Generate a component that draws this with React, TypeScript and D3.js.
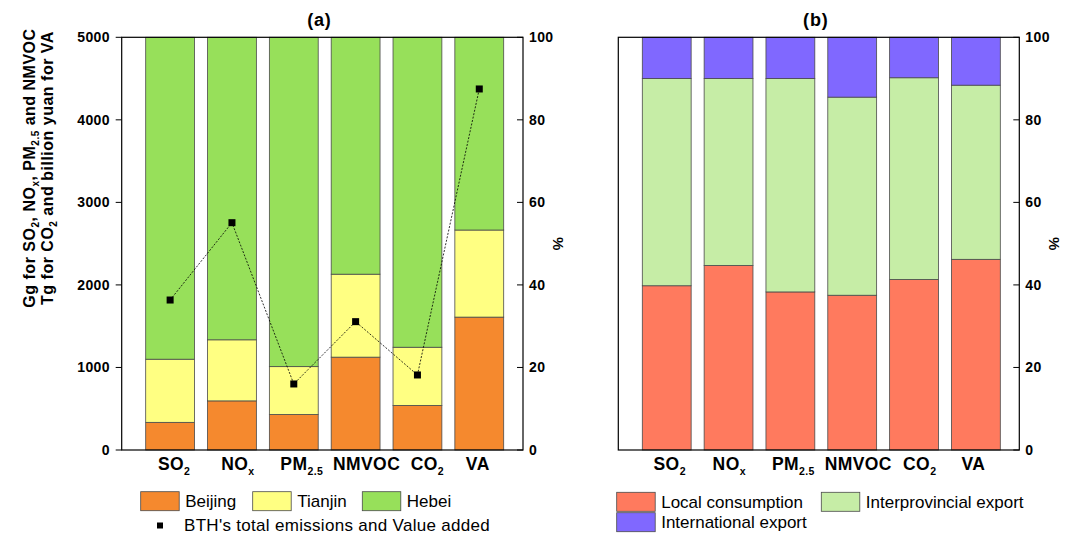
import React, { useEffect, useRef } from 'react';
import * as d3 from 'd3';

// categories and their label parts (main text, subscript)
const categories = ['SO2', 'NOx', 'PM2.5', 'NMVOC', 'CO2', 'VA'];
const catMain = ['SO', 'NO', 'PM', 'NMVOC', 'CO', 'VA'];
const catSub = ['2', 'x', '2.5', '', '2', ''];

// (a) regional shares, %
const beijingShare = [6.7, 11.9, 8.6, 22.5, 10.8, 32.2];
const tianjinShare = [15.3, 14.8, 11.6, 20.1, 14.1, 21.1];
const hebeiShare = [78.0, 73.3, 79.8, 57.4, 75.1, 46.7];
// (a) BTH totals, Gg / Tg / billion yuan
const bthTotal = [1817, 2754, 800, 1555, 909, 4374];

// (b) final demand shares, %
const localShare = [39.8, 44.7, 38.3, 37.5, 41.3, 46.2];
const interShare = [50.2, 45.3, 51.7, 48.0, 48.9, 42.2];
const intlShare = [10.0, 10.0, 10.0, 14.5, 9.8, 11.6];

const leftTicks = [0, 1000, 2000, 3000, 4000, 5000];
const pctTicks = [0, 20, 40, 60, 80, 100];

const seriesA = ['Beijing', 'Tianjin', 'Hebei'];
const colorsA = ['#f5892e', '#ffff82', '#97e05a'];
const seriesB = ['Local consumption', 'Interprovincial export', 'International export'];
const colorsB = ['#ff7a5e', '#c6eda6', '#8068ff'];

// category labels in the original sit a little off the bar centres
const labelDxA = [4, 6, 8, 11, 10, -1.5];
const labelDxB = [3, 0.7, 3, 6, 5.7, -2.5];

const FONT = "Arial, 'Liberation Sans', sans-serif";

const App = () => {
  const ref = useRef<SVGSVGElement>(null);

  useEffect(() => {
    const svg = d3.select(ref.current);
    svg.selectAll('*').remove();

    const top = 37.3,
      bottom = 450;

    const drawPanel = (
      left: number,
      right: number,
      title: string,
      shares: number[][],
      colors: string[],
      labelDx: number[]
    ) => {
      const g = svg.append('g');
      const x = d3
        .scaleBand()
        .domain(categories)
        .range([left + 24, left + 24 + 358])
        .paddingInner(0.21)
        .paddingOuter(0);
      const yPct = d3.scaleLinear().domain([0, 100]).range([bottom, top]);

      const rows = categories.map((c, i) => {
        const r: any = { cat: c };
        shares.forEach((s, k) => (r['s' + k] = s[i]));
        return r;
      });
      const stack = d3.stack().keys(shares.map((_, k) => 's' + k))(rows);

      stack.forEach((layer, k) => {
        g.append('g')
          .selectAll('rect')
          .data(layer)
          .enter()
          .append('rect')
          .attr('x', (d: any) => x(d.data.cat) as number)
          .attr('y', d => yPct(d[1]))
          .attr('width', x.bandwidth())
          .attr('height', d => yPct(d[0]) - yPct(d[1]))
          .attr('fill', colors[k])
          .attr('stroke', '#4a4a4a')
          .attr('stroke-width', 0.8);
      });

      // frame
      g.append('rect')
        .attr('x', left)
        .attr('y', top)
        .attr('width', right - left)
        .attr('height', bottom - top)
        .attr('fill', 'none')
        .attr('stroke', '#000')
        .attr('stroke-width', 1.2);

      // right % axis, ticks inward
      const ra = g.append('g');
      ra.selectAll('line')
        .data(pctTicks)
        .enter()
        .append('line')
        .attr('x1', right - 6)
        .attr('x2', right)
        .attr('y1', d => yPct(d))
        .attr('y2', d => yPct(d))
        .attr('stroke', '#000');
      ra.selectAll('text')
        .data(pctTicks)
        .enter()
        .append('text')
        .attr('x', right + 6)
        .attr('y', d => yPct(d) + 5)
        .attr('font-size', 14)
        .attr('font-weight', 'bold')
        .attr('letter-spacing', 0.4)
        .text(d => d);
      g.append('text')
        .attr('transform', `translate(${right + 30},${(top + bottom) / 2}) rotate(90)`)
        .attr('text-anchor', 'middle')
        .attr('font-size', 15)
        .attr('font-weight', 'bold')
        .text('%');

      // category labels
      categories.forEach((c, i) => {
        const t = g
          .append('text')
          .attr('x', (x(c) as number) + x.bandwidth() / 2 + labelDx[i])
          .attr('y', 470)
          .attr('text-anchor', 'middle')
          .attr('font-size', 17.5)
          .attr('letter-spacing', 0.4)
          .attr('font-weight', 'bold');
        t.append('tspan').text(catMain[i]);
        if (catSub[i]) {
          t.append('tspan').attr('font-size', 10.5).attr('dy', 5).text(catSub[i]);
        }
      });

      g.append('text')
        .attr('x', (left + right) / 2 - 3)
        .attr('y', 26)
        .attr('text-anchor', 'middle')
        .attr('font-size', 18)
        .attr('letter-spacing', 0.8)
        .attr('font-weight', 'bold')
        .text(title);

      return { g, x };
    };

    // ---- panel (a)
    const a = drawPanel(121.7, 523, '(a)', [beijingShare, tianjinShare, hebeiShare], colorsA, labelDxA);
    const yLeft = d3.scaleLinear().domain([0, 5000]).range([bottom, top]);
    const la = a.g.append('g');
    la.selectAll('line')
      .data(leftTicks)
      .enter()
      .append('line')
      .attr('x1', 115.7)
      .attr('x2', 121.7)
      .attr('y1', d => yLeft(d))
      .attr('y2', d => yLeft(d))
      .attr('stroke', '#000');
    la.selectAll('text')
      .data(leftTicks)
      .enter()
      .append('text')
      .attr('x', 110)
      .attr('y', d => yLeft(d) + 5)
      .attr('text-anchor', 'end')
      .attr('font-size', 14)
      .attr('font-weight', 'bold')
      .attr('letter-spacing', 0.4)
      .text(d => d);

    const yLabel = [
      [['Gg for SO', ''], ['2', 's'], [', NO', ''], ['x', 's'], [', PM', ''], ['2.5', 's'], [' and NMVOC', '']],
      [['Tg for CO', ''], ['2', 's'], [' and billion yuan for VA', '']],
    ];
    yLabel.forEach((parts, li) => {
      const t = a.g
        .append('text')
        .attr('transform', `translate(${35 + li * 18},168) rotate(-90)`)
        .attr('text-anchor', 'middle')
        .attr('font-size', 16)
        .attr('letter-spacing', 0.5)
        .attr('font-weight', 'bold');
      parts.forEach(([s, kind], pi) => {
        const prevSub = pi > 0 && parts[pi - 1][1] === 's';
        const sp = t.append('tspan').text(s);
        if (kind === 's') sp.attr('font-size', 10).attr('dy', 4);
        else if (prevSub) sp.attr('dy', -4);
      });
    });

    const line = d3
      .line<number>()
      .x((_, i) => (a.x(categories[i]) as number) + a.x.bandwidth() / 2)
      .y(d => yLeft(d));
    a.g.append('path')
      .datum(bthTotal)
      .attr('d', line)
      .attr('fill', 'none')
      .attr('stroke', '#000')
      .attr('stroke-width', 0.8)
      .attr('stroke-dasharray', '2,1.5');
    a.g.append('g')
      .selectAll('rect')
      .data(bthTotal)
      .enter()
      .append('rect')
      .attr('x', (_, i) => (a.x(categories[i]) as number) + a.x.bandwidth() / 2 - 3.5)
      .attr('y', d => yLeft(d) - 3.5)
      .attr('width', 7)
      .attr('height', 7)
      .attr('fill', '#000');

    // ---- panel (b)
    drawPanel(618.3, 1019.3, '(b)', [localShare, interShare, intlShare], colorsB, labelDxB);

    // ---- legends
    const swatch = (x0: number, y0: number, fill: string, label: string) => {
      svg.append('rect')
        .attr('x', x0)
        .attr('y', y0)
        .attr('width', 38.5)
        .attr('height', 19)
        .attr('fill', fill)
        .attr('stroke', '#4a4a4a')
        .attr('stroke-width', 0.8);
      svg.append('text')
        .attr('x', x0 + 44.5)
        .attr('y', y0 + 15.5)
        .attr('font-size', 17)
        .text(label);
    };
    const legA = [140.7, 252.7, 362.3];
    seriesA.forEach((s, i) => swatch(legA[i], 491.7, colorsA[i], s));
    svg.append('rect').attr('x', 157).attr('y', 522.5).attr('width', 6).attr('height', 6).attr('fill', '#000');
    svg.append('text')
      .attr('x', 184)
      .attr('y', 531)
      .attr('font-size', 17)
      .attr('letter-spacing', 0.3)
      .text("BTH's total emissions and Value added");

    const legBx = [616.7, 821.3, 616.7];
    const legBy = [492.3, 492.3, 512.7];
    seriesB.forEach((s, i) => swatch(legBx[i], legBy[i], colorsB[i], s));
  }, []);

  return (
    <svg
      ref={ref}
      width={1075}
      height={538}
      style={{ position: 'absolute', left: 0, top: 0, background: '#fff', fontFamily: FONT }}
    />
  );
};

export default App;
